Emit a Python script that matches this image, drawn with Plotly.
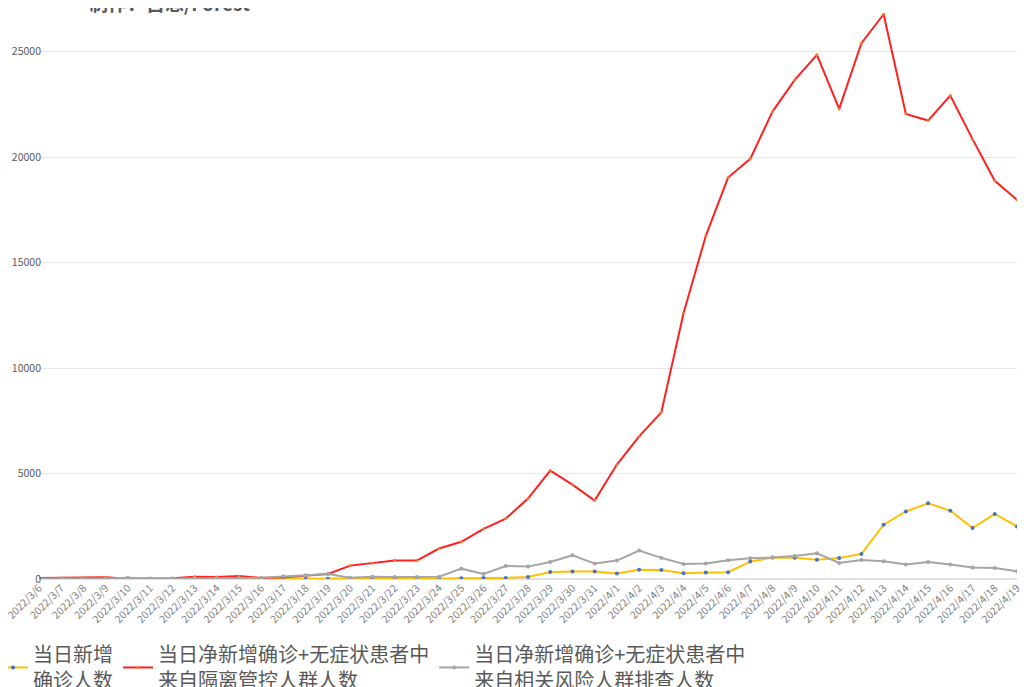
import plotly.graph_objects as go

dates = ["2022/3/6", "2022/3/7", "2022/3/8", "2022/3/9", "2022/3/10", "2022/3/11", "2022/3/12",
         "2022/3/13", "2022/3/14", "2022/3/15", "2022/3/16", "2022/3/17", "2022/3/18", "2022/3/19",
         "2022/3/20", "2022/3/21", "2022/3/22", "2022/3/23", "2022/3/24", "2022/3/25", "2022/3/26",
         "2022/3/27", "2022/3/28", "2022/3/29", "2022/3/30", "2022/3/31", "2022/4/1", "2022/4/2",
         "2022/4/3", "2022/4/4", "2022/4/5", "2022/4/6", "2022/4/7", "2022/4/8", "2022/4/9",
         "2022/4/10", "2022/4/11", "2022/4/12", "2022/4/13", "2022/4/14", "2022/4/15", "2022/4/16",
         "2022/4/17", "2022/4/18", "2022/4/19"]

new_confirmed = [3, 4, 3, 4, 11, 5, 1, 41, 9, 5, 8, 57, 8, 17, 24, 31, 4, 4, 29, 38, 45,
                 50, 96, 326, 355, 358, 260, 438, 425, 268, 311, 322, 824, 1015, 1006,
                 914, 994, 1189, 2573, 3200, 3590, 3238, 2417, 3084, 2494]

from_quarantine = [50, 50, 80, 80, 10, 30, 30, 110, 95, 140, 50, 80, 160, 240, 635, 746, 873,
                   873, 1444, 1762, 2380, 2866, 3813, 5140, 4476, 3718, 5424, 6765, 7902,
                   12610, 16272, 19033, 19919, 22160, 23662, 24846, 22287, 25400, 26773,
                   22051, 21734, 22918, 20852, 18877, 17977]

from_screening = [20, 20, 20, 20, 60, 20, 20, 40, 30, 50, 60, 130, 175, 240, 60, 110, 95, 95,
                  110, 490, 240, 619, 587, 809, 1127, 730, 873, 1349, 1000, 714, 730, 889,
                  984, 1016, 1095, 1222, 762, 905, 841, 682, 809, 682, 540, 524, 365]

names = ["当日新增<br>确诊人数",
         "当日净新增确诊+无症状患者中<br>来自隔离管控人群人数",
         "当日净新增确诊+无症状患者中<br>来自相关风险人群排查人数"]

fig = go.Figure()
fig.add_trace(go.Scatter(x=dates, y=new_confirmed, name=names[0], mode="lines+markers",
                         line=dict(color="#FFC000", width=2),
                         marker=dict(color="#4472C4", size=4)))
fig.add_trace(go.Scatter(x=dates, y=from_quarantine, name=names[1], mode="lines+markers",
                         line=dict(color="#FF2020", width=2),
                         marker=dict(color="#ED7D31", size=3)))
fig.add_trace(go.Scatter(x=dates, y=from_screening, name=names[2], mode="lines+markers",
                         line=dict(color="#A5A5A5", width=2),
                         marker=dict(color="#A5A5A5", size=4)))

fig.update_layout(
    width=1022, height=679,
    margin=dict(l=31, r=13, t=0, b=107.5, autoexpand=False),
    paper_bgcolor="white", plot_bgcolor="white",
    font=dict(family="Noto Sans CJK SC, sans-serif", color="#595959"),
    showlegend=True,
    legend=dict(orientation="h", x=-0.047, xanchor="left", y=-0.098, yanchor="top",
                font=dict(size=20, color="#595959"), itemwidth=30,
                bgcolor="rgba(0,0,0,0)", tracegroupgap=0),
    annotations=[dict(text="<b>制作：古思/Forest</b>", xref="paper", yref="paper",
                      x=(87 - 39) / 978, y=1, xanchor="left", yanchor="middle", yshift=6,
                      showarrow=False, font=dict(size=19, color="#595959"))],
)
fig.update_xaxes(type="category", range=[0, len(dates) - 1], tickangle=-45,
                 tickfont=dict(size=10.5, color="#7F7F7F"), showgrid=False,
                 showline=False, ticks="")
fig.update_yaxes(range=[0, 27070], dtick=5000, tickformat="d",
                 gridcolor="#E8E8E8", gridwidth=1, zeroline=True, zerolinecolor="#E0E0E0",
                 tickfont=dict(size=10.5, color="#595959"), showline=False,
                 ticklabelstandoff=-3)

fig.write_html("out.html")
